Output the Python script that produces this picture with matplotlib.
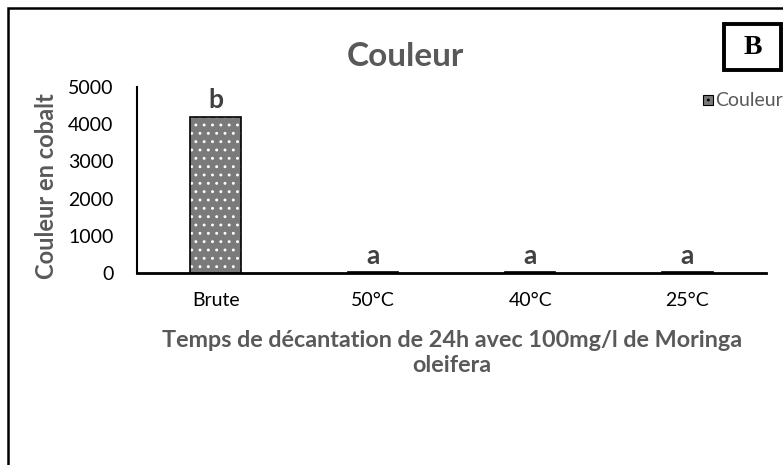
import matplotlib
matplotlib.use("Agg")
import matplotlib.pyplot as plt
from matplotlib.patches import Rectangle

plt.rcParams['font.family'] = ['Lato', 'DejaVu Sans']
plt.rcParams['hatch.linewidth'] = 0.9

categories = ['Brute', '50°C', '40°C', '25°C']
values = [4200, 20, 20, 20]
letters = ['b', 'a', 'a', 'a']
yticks = [0, 1000, 2000, 3000, 4000, 5000]

grey = '#595959'
fill = '#7a7a7a'

fig = plt.figure(figsize=(7.83, 4.65), dpi=100)
ax = fig.add_axes([137/783, 1 - 273/465, 629/783, 186/465])

x = range(len(categories))
# patterned fill, then black outline on top
ax.bar(x, values, width=0.32, color=fill, edgecolor='white', hatch='..', linewidth=0, zorder=2)
ax.bar(x, values, width=0.32, color='none', edgecolor='black', linewidth=1.2, zorder=3)

for xi, v, lt in zip(x, values, letters):
    ax.text(xi, v + 120, lt, ha='center', va='bottom', fontsize=19, fontweight='bold', color='#404040')

ax.set_xlim(-0.5, 3.5)
ax.set_ylim(0, 5000)
ax.set_yticks(yticks)
ax.set_xticks(list(x))
ax.set_xticklabels(categories)
ax.tick_params(length=0, labelsize=14, colors='black', pad=14)
ax.tick_params(axis='y', pad=17)
for s in ['top', 'right']:
    ax.spines[s].set_visible(False)
ax.spines['left'].set_linewidth(1.5)
ax.spines['bottom'].set_linewidth(2)

fig.text(405/783, 1 - 57/465, 'Couleur', ha='center', va='center', fontsize=24, fontweight='bold', color=grey)
fig.text(47/783, 1 - 186/465, 'Couleur en cobalt', ha='center', va='center', rotation=90,
         fontsize=17, fontweight='bold', color=grey)
fig.text(452/783, 1 - 353/465, 'Temps de décantation de 24h avec 100mg/l de Moringa\noleifera',
         ha='center', va='center', fontsize=16.8, fontweight='bold', color=grey, linespacing=1.25)

# legend
fig.patches.append(Rectangle((703/783, 1 - 105/465), 10/783, 10/465, transform=fig.transFigure,
                             facecolor=fill, edgecolor='black', hatch='..', linewidth=0.8))
fig.text(715/783, 1 - 100/465, 'Couleur', ha='left', va='center', fontsize=14, color=grey)

# panel label
fig.patches.append(Rectangle((724/783, 1 - 70/465), 57/783, 46/465, transform=fig.transFigure,
                             facecolor='white', edgecolor='black', linewidth=2.8))
fig.text(753/783, 1 - 48/465, 'B', ha='center', va='center', fontsize=20, fontweight='bold',
         family='Liberation Serif')

# outer frame
fig.patches.append(Rectangle((8/783, -0.1), 1.2, 1 - 8/465 + 0.1, transform=fig.transFigure,
                             facecolor='none', edgecolor='black', linewidth=1.8))

fig.savefig('out.png', dpi=100)
